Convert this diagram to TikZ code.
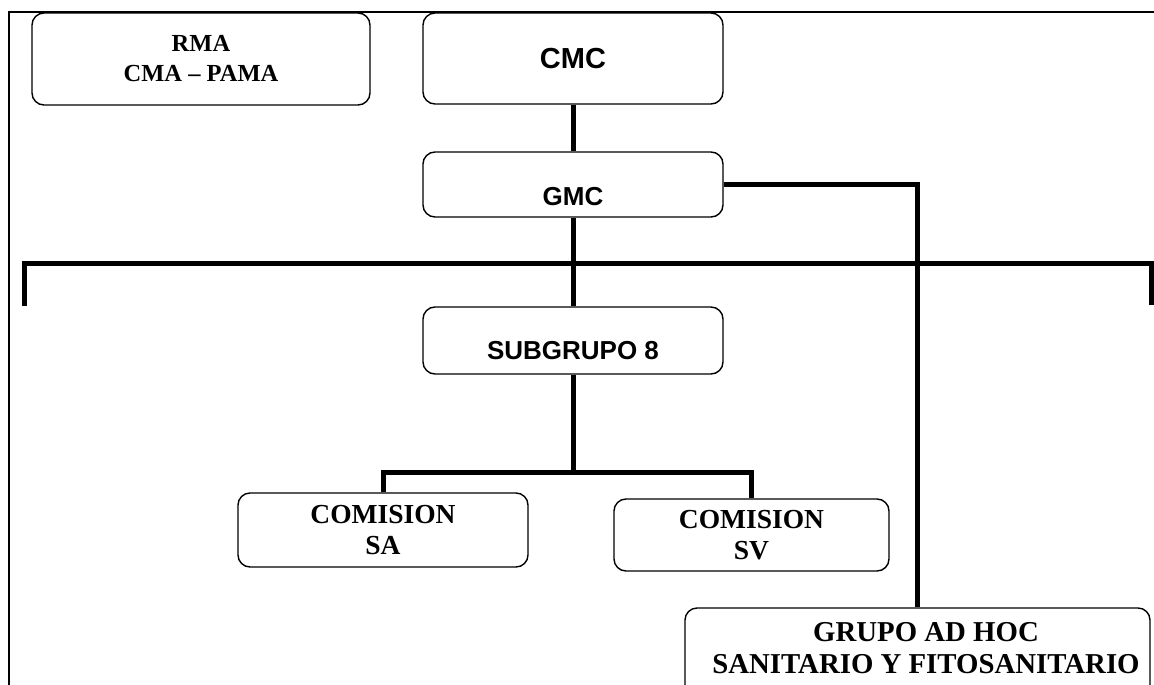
\documentclass[tikz,border=0pt]{standalone}
\usepackage{fontspec}
\setmainfont{Liberation Serif}
\setsansfont{Liberation Sans}
\begin{document}
\begin{tikzpicture}[x=1pt,y=-1pt,
  frameline/.style={line width=1.3pt},
  box/.style={draw, line width=1.4pt, rounded corners=12pt, inner sep=0pt, align=center},
  link/.style={line width=5pt, line join=miter},
  serifbig/.style={font=\fontsize{27.5}{30.5}\selectfont\bfseries, align=center},
  serifwide/.style={font=\fontsize{28.8}{31.5}\selectfont\bfseries, align=center},
  serifsmall/.style={font=\fontsize{24.5}{30}\selectfont\bfseries, align=center},
  sansbold/.style={font=\fontsize{29}{32}\selectfont\sffamily\bfseries},
  sansmid/.style={font=\fontsize{26}{30}\selectfont\sffamily\bfseries}
]
\useasboundingbox (0,0) rectangle (1154,685);
\clip (0,0) rectangle (1154,685);

% outer frame (left and top edges)
\draw[frameline] (9,685) -- (9,12) -- (1154,12);

% boxes
\node[box, serifsmall, minimum width=338pt, minimum height=92pt] (rma) at (201,59) {RMA\\CMA -- PAMA};
\node[box, sansbold, minimum width=300pt, minimum height=91pt] (cmc) at (573,58.5) {CMC};
\node[box, minimum width=300pt, minimum height=65pt] (gmc) at (573,184.5) {};
\node[sansmid] (gmctext) at (573,196.5) {GMC};
\node[box, minimum width=300pt, minimum height=67pt] (sub) at (573,340.5) {};
\node[sansmid] (subtext) at (573,351) {SUBGRUPO 8};
\node[box, serifbig, minimum width=290pt, minimum height=74pt] (sa) at (383,530) {COMISION\\SA};
\node[box, serifbig, minimum width=275pt, minimum height=72pt] (sv) at (751.5,535) {COMISION\\SV};
\node[box, minimum width=465pt, minimum height=112pt] (grupo) at (917.5,664) {};
\node[serifwide] (grupotext) at (926,648) {GRUPO AD HOC\\SANITARIO Y FITOSANITARIO};

% long horizontal bar with turned-down ends
\coordinate (barleft) at (24.5,306);
\coordinate (barright) at (1151.5,305);
\draw[link] (barleft) -- ++(0,-43) -| (barright);

% connectors
\draw[link] (cmc.south) -- (gmc.north);
\draw[link] (gmc.east) -| (grupo.north);
\draw[link] (gmc.south) -- (sub.north);
\coordinate (fork) at (573,472);
\draw[link] (sub.south) -- (fork);
\draw[link] (sa.north) |- (fork) -| (sv.north);
\end{tikzpicture}
\end{document}
